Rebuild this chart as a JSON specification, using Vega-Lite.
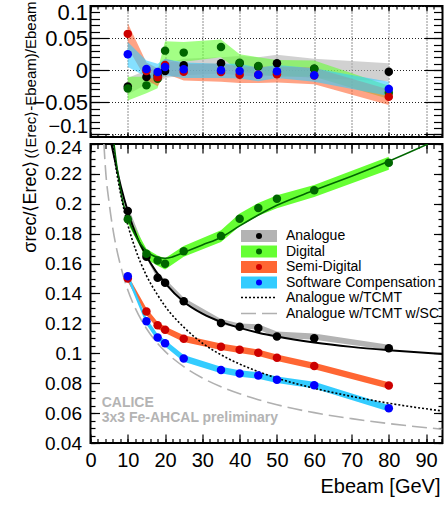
{
  "$schema": "https://vega.github.io/schema/vega-lite/v6.json",
  "autosize": {"type": "none"},
  "padding": {"left": 90.5, "top": 6, "right": 353.5, "bottom": 500},
  "background": "white",
  "config": {
    "font": "Liberation Sans",
    "view": {"stroke": "black", "strokeWidth": 2},
    "axis": {"domain": false, "grid": false, "tickColor": "black", "tickWidth": 1.2, "labelColor": "black", "labelFont": "Liberation Sans", "titleFont": "Liberation Sans", "titleColor": "black", "titleFontWeight": "normal", "labelFlush": false, "labelOverlap": false, "labelBound": false},
    "legend": {"labelFont": "Liberation Sans", "labelColor": "black", "padding": 0}
  },
  "datasets": {
    "topBands": [
      {"E": 10, "series": "Analogue", "lo": -0.038, "hi": -0.012},
      {"E": 15, "series": "Analogue", "lo": -0.022, "hi": 0.0},
      {"E": 18, "series": "Analogue", "lo": -0.02, "hi": 0.004},
      {"E": 20, "series": "Analogue", "lo": -0.012, "hi": 0.01},
      {"E": 25, "series": "Analogue", "lo": -0.008, "hi": 0.018},
      {"E": 35, "series": "Analogue", "lo": -0.005, "hi": 0.02},
      {"E": 40, "series": "Analogue", "lo": -0.008, "hi": 0.022},
      {"E": 45, "series": "Analogue", "lo": -0.01, "hi": 0.02},
      {"E": 50, "series": "Analogue", "lo": -0.008, "hi": 0.024},
      {"E": 60, "series": "Analogue", "lo": -0.012, "hi": 0.018},
      {"E": 80, "series": "Analogue", "lo": -0.017, "hi": 0.011},
      {"E": 10, "series": "Digital", "lo": -0.047, "hi": -0.01},
      {"E": 15, "series": "Digital", "lo": -0.036, "hi": -0.01},
      {"E": 18, "series": "Digital", "lo": -0.028, "hi": 0.0},
      {"E": 20, "series": "Digital", "lo": 0.015, "hi": 0.045},
      {"E": 25, "series": "Digital", "lo": 0.013, "hi": 0.044},
      {"E": 35, "series": "Digital", "lo": 0.02, "hi": 0.048},
      {"E": 40, "series": "Digital", "lo": -0.002, "hi": 0.025},
      {"E": 45, "series": "Digital", "lo": -0.006, "hi": 0.02},
      {"E": 50, "series": "Digital", "lo": -0.01, "hi": 0.016},
      {"E": 60, "series": "Digital", "lo": -0.01, "hi": 0.015},
      {"E": 80, "series": "Digital", "lo": -0.045, "hi": -0.024},
      {"E": 10, "series": "Semi-Digital", "lo": 0.035, "hi": 0.073},
      {"E": 15, "series": "Semi-Digital", "lo": -0.015, "hi": 0.012},
      {"E": 18, "series": "Semi-Digital", "lo": -0.025, "hi": 0.003},
      {"E": 20, "series": "Semi-Digital", "lo": -0.005, "hi": 0.018},
      {"E": 25, "series": "Semi-Digital", "lo": -0.016, "hi": 0.01},
      {"E": 35, "series": "Semi-Digital", "lo": -0.018, "hi": 0.01},
      {"E": 40, "series": "Semi-Digital", "lo": -0.02, "hi": 0.006},
      {"E": 45, "series": "Semi-Digital", "lo": -0.02, "hi": 0.005},
      {"E": 50, "series": "Semi-Digital", "lo": -0.019, "hi": 0.006},
      {"E": 60, "series": "Semi-Digital", "lo": -0.022, "hi": 0.004},
      {"E": 80, "series": "Semi-Digital", "lo": -0.054, "hi": -0.03},
      {"E": 10, "series": "Software Compensation", "lo": 0.005, "hi": 0.044},
      {"E": 15, "series": "Software Compensation", "lo": -0.01, "hi": 0.015},
      {"E": 18, "series": "Software Compensation", "lo": -0.015, "hi": 0.01},
      {"E": 20, "series": "Software Compensation", "lo": -0.008, "hi": 0.018},
      {"E": 25, "series": "Software Compensation", "lo": -0.012, "hi": 0.012},
      {"E": 35, "series": "Software Compensation", "lo": -0.012, "hi": 0.01},
      {"E": 40, "series": "Software Compensation", "lo": -0.013, "hi": 0.01},
      {"E": 45, "series": "Software Compensation", "lo": -0.017, "hi": 0.004},
      {"E": 50, "series": "Software Compensation", "lo": -0.012, "hi": 0.008},
      {"E": 60, "series": "Software Compensation", "lo": -0.018, "hi": 0.003},
      {"E": 80, "series": "Software Compensation", "lo": -0.04, "hi": -0.018}
    ],
    "topPts": [
      {"E": 10, "series": "Analogue", "v": -0.0252},
      {"E": 15, "series": "Analogue", "v": -0.0106},
      {"E": 18, "series": "Analogue", "v": -0.008},
      {"E": 20, "series": "Analogue", "v": -0.0013},
      {"E": 25, "series": "Analogue", "v": 0.0077},
      {"E": 35, "series": "Analogue", "v": 0.0108},
      {"E": 40, "series": "Analogue", "v": 0.011},
      {"E": 45, "series": "Analogue", "v": 0.0058},
      {"E": 50, "series": "Analogue", "v": 0.0108},
      {"E": 60, "series": "Analogue", "v": 0.0022},
      {"E": 80, "series": "Analogue", "v": -0.0023},
      {"E": 10, "series": "Digital", "v": -0.0283},
      {"E": 15, "series": "Digital", "v": -0.0236},
      {"E": 18, "series": "Digital", "v": -0.0133},
      {"E": 20, "series": "Digital", "v": 0.0305},
      {"E": 25, "series": "Digital", "v": 0.0274},
      {"E": 35, "series": "Digital", "v": 0.0363},
      {"E": 40, "series": "Digital", "v": 0.0117},
      {"E": 45, "series": "Digital", "v": 0.0066},
      {"E": 50, "series": "Digital", "v": -0.004},
      {"E": 60, "series": "Digital", "v": 0.0024},
      {"E": 80, "series": "Digital", "v": -0.035},
      {"E": 10, "series": "Semi-Digital", "v": 0.0566},
      {"E": 15, "series": "Semi-Digital", "v": -0.0013},
      {"E": 18, "series": "Semi-Digital", "v": -0.0111},
      {"E": 20, "series": "Semi-Digital", "v": 0.0081},
      {"E": 25, "series": "Semi-Digital", "v": -0.0023},
      {"E": 35, "series": "Semi-Digital", "v": -0.0028},
      {"E": 40, "series": "Semi-Digital", "v": -0.007},
      {"E": 45, "series": "Semi-Digital", "v": -0.0072},
      {"E": 50, "series": "Semi-Digital", "v": -0.0064},
      {"E": 60, "series": "Semi-Digital", "v": -0.0082},
      {"E": 80, "series": "Semi-Digital", "v": -0.0414},
      {"E": 10, "series": "Software Compensation", "v": 0.0248},
      {"E": 15, "series": "Software Compensation", "v": 0.0019},
      {"E": 18, "series": "Software Compensation", "v": -0.0028},
      {"E": 20, "series": "Software Compensation", "v": 0.005},
      {"E": 25, "series": "Software Compensation", "v": 0.0014},
      {"E": 35, "series": "Software Compensation", "v": -0.0002},
      {"E": 40, "series": "Software Compensation", "v": -0.0013},
      {"E": 45, "series": "Software Compensation", "v": -0.007},
      {"E": 50, "series": "Software Compensation", "v": -0.0017},
      {"E": 60, "series": "Software Compensation", "v": -0.008},
      {"E": 80, "series": "Software Compensation", "v": -0.0294}
    ],
    "botBands": [
      {"E": 10, "series": "Analogue", "lo": 0.1935, "hi": 0.1985},
      {"E": 15, "series": "Analogue", "lo": 0.1635, "hi": 0.1672},
      {"E": 18, "series": "Analogue", "lo": 0.1495, "hi": 0.153},
      {"E": 20, "series": "Analogue", "lo": 0.146, "hi": 0.1498},
      {"E": 25, "series": "Analogue", "lo": 0.1335, "hi": 0.1372},
      {"E": 35, "series": "Analogue", "lo": 0.1195, "hi": 0.123},
      {"E": 40, "series": "Analogue", "lo": 0.1168, "hi": 0.12},
      {"E": 45, "series": "Analogue", "lo": 0.116, "hi": 0.1195},
      {"E": 50, "series": "Analogue", "lo": 0.1105, "hi": 0.1145},
      {"E": 60, "series": "Analogue", "lo": 0.109, "hi": 0.1132},
      {"E": 80, "series": "Analogue", "lo": 0.1022, "hi": 0.1058},
      {"E": 10, "series": "Digital", "lo": 0.187, "hi": 0.1925},
      {"E": 15, "series": "Digital", "lo": 0.163, "hi": 0.17},
      {"E": 18, "series": "Digital", "lo": 0.1585, "hi": 0.1655},
      {"E": 20, "series": "Digital", "lo": 0.156, "hi": 0.1635},
      {"E": 25, "series": "Digital", "lo": 0.1645, "hi": 0.1718},
      {"E": 35, "series": "Digital", "lo": 0.1745, "hi": 0.1823},
      {"E": 40, "series": "Digital", "lo": 0.185, "hi": 0.1935},
      {"E": 45, "series": "Digital", "lo": 0.192, "hi": 0.2005},
      {"E": 50, "series": "Digital", "lo": 0.197, "hi": 0.2058},
      {"E": 60, "series": "Digital", "lo": 0.2046, "hi": 0.2125},
      {"E": 80, "series": "Digital", "lo": 0.2228, "hi": 0.2315},
      {"E": 10, "series": "Semi-Digital", "lo": 0.1479, "hi": 0.1523},
      {"E": 15, "series": "Semi-Digital", "lo": 0.1257, "hi": 0.1301},
      {"E": 18, "series": "Semi-Digital", "lo": 0.1165, "hi": 0.1209},
      {"E": 20, "series": "Semi-Digital", "lo": 0.1136, "hi": 0.118},
      {"E": 25, "series": "Semi-Digital", "lo": 0.1076, "hi": 0.112},
      {"E": 35, "series": "Semi-Digital", "lo": 0.1022, "hi": 0.1066},
      {"E": 40, "series": "Semi-Digital", "lo": 0.1002, "hi": 0.1046},
      {"E": 45, "series": "Semi-Digital", "lo": 0.0982, "hi": 0.1026},
      {"E": 50, "series": "Semi-Digital", "lo": 0.0948, "hi": 0.0992},
      {"E": 60, "series": "Semi-Digital", "lo": 0.0893, "hi": 0.0937},
      {"E": 80, "series": "Semi-Digital", "lo": 0.0763, "hi": 0.0807},
      {"E": 10, "series": "Software Compensation", "lo": 0.1494, "hi": 0.1538},
      {"E": 15, "series": "Software Compensation", "lo": 0.1192, "hi": 0.1236},
      {"E": 18, "series": "Software Compensation", "lo": 0.1083, "hi": 0.1127},
      {"E": 20, "series": "Software Compensation", "lo": 0.1045, "hi": 0.1089},
      {"E": 25, "series": "Software Compensation", "lo": 0.0944, "hi": 0.0988},
      {"E": 35, "series": "Software Compensation", "lo": 0.0866, "hi": 0.091},
      {"E": 40, "series": "Software Compensation", "lo": 0.0843, "hi": 0.0887},
      {"E": 45, "series": "Software Compensation", "lo": 0.083, "hi": 0.0874},
      {"E": 50, "series": "Software Compensation", "lo": 0.0801, "hi": 0.0845},
      {"E": 60, "series": "Software Compensation", "lo": 0.0765, "hi": 0.0809},
      {"E": 80, "series": "Software Compensation", "lo": 0.0611, "hi": 0.0655}
    ],
    "botPts": [
      {"E": 10, "series": "Analogue", "v": 0.1952},
      {"E": 15, "series": "Analogue", "v": 0.1646},
      {"E": 18, "series": "Analogue", "v": 0.1505},
      {"E": 20, "series": "Analogue", "v": 0.1472},
      {"E": 25, "series": "Analogue", "v": 0.1348},
      {"E": 35, "series": "Analogue", "v": 0.1203},
      {"E": 40, "series": "Analogue", "v": 0.1178},
      {"E": 45, "series": "Analogue", "v": 0.117},
      {"E": 50, "series": "Analogue", "v": 0.1113},
      {"E": 60, "series": "Analogue", "v": 0.11},
      {"E": 80, "series": "Analogue", "v": 0.1033},
      {"E": 10, "series": "Digital", "v": 0.1897},
      {"E": 15, "series": "Digital", "v": 0.1666},
      {"E": 18, "series": "Digital", "v": 0.1621},
      {"E": 20, "series": "Digital", "v": 0.1599},
      {"E": 25, "series": "Digital", "v": 0.1682},
      {"E": 35, "series": "Digital", "v": 0.1785},
      {"E": 40, "series": "Digital", "v": 0.19},
      {"E": 45, "series": "Digital", "v": 0.1972},
      {"E": 50, "series": "Digital", "v": 0.2033},
      {"E": 60, "series": "Digital", "v": 0.209},
      {"E": 80, "series": "Digital", "v": 0.2275},
      {"E": 10, "series": "Semi-Digital", "v": 0.1501},
      {"E": 15, "series": "Semi-Digital", "v": 0.1279},
      {"E": 18, "series": "Semi-Digital", "v": 0.1187},
      {"E": 20, "series": "Semi-Digital", "v": 0.1158},
      {"E": 25, "series": "Semi-Digital", "v": 0.1098},
      {"E": 35, "series": "Semi-Digital", "v": 0.1044},
      {"E": 40, "series": "Semi-Digital", "v": 0.1024},
      {"E": 45, "series": "Semi-Digital", "v": 0.1004},
      {"E": 50, "series": "Semi-Digital", "v": 0.097},
      {"E": 60, "series": "Semi-Digital", "v": 0.0915},
      {"E": 80, "series": "Semi-Digital", "v": 0.0785},
      {"E": 10, "series": "Software Compensation", "v": 0.1516},
      {"E": 15, "series": "Software Compensation", "v": 0.1214},
      {"E": 18, "series": "Software Compensation", "v": 0.1105},
      {"E": 20, "series": "Software Compensation", "v": 0.1067},
      {"E": 25, "series": "Software Compensation", "v": 0.0966},
      {"E": 35, "series": "Software Compensation", "v": 0.0888},
      {"E": 40, "series": "Software Compensation", "v": 0.0865},
      {"E": 45, "series": "Software Compensation", "v": 0.0852},
      {"E": 50, "series": "Software Compensation", "v": 0.0823},
      {"E": 60, "series": "Software Compensation", "v": 0.0787},
      {"E": 80, "series": "Software Compensation", "v": 0.0633}
    ],
    "fits": [
      {"E": 5.6, "curve": "Analogue", "v": 0.24},
      {"E": 7, "curve": "Analogue", "v": 0.224},
      {"E": 8.3, "curve": "Analogue", "v": 0.21},
      {"E": 10, "curve": "Analogue", "v": 0.195},
      {"E": 12.5, "curve": "Analogue", "v": 0.1775},
      {"E": 15, "curve": "Analogue", "v": 0.165},
      {"E": 17.5, "curve": "Analogue", "v": 0.155},
      {"E": 20, "curve": "Analogue", "v": 0.147},
      {"E": 25, "curve": "Analogue", "v": 0.1345},
      {"E": 30, "curve": "Analogue", "v": 0.1265},
      {"E": 35, "curve": "Analogue", "v": 0.121},
      {"E": 40, "curve": "Analogue", "v": 0.117},
      {"E": 45, "curve": "Analogue", "v": 0.1138},
      {"E": 50, "curve": "Analogue", "v": 0.1112},
      {"E": 60, "curve": "Analogue", "v": 0.1072},
      {"E": 70, "curve": "Analogue", "v": 0.1043},
      {"E": 80, "curve": "Analogue", "v": 0.1021},
      {"E": 94.4, "curve": "Analogue", "v": 0.0995},
      {"E": 6.3, "curve": "Digital", "v": 0.24},
      {"E": 7, "curve": "Digital", "v": 0.226},
      {"E": 8, "curve": "Digital", "v": 0.21},
      {"E": 9, "curve": "Digital", "v": 0.198},
      {"E": 10, "curve": "Digital", "v": 0.1905},
      {"E": 12, "curve": "Digital", "v": 0.179},
      {"E": 15, "curve": "Digital", "v": 0.1685},
      {"E": 18, "curve": "Digital", "v": 0.1642},
      {"E": 20, "curve": "Digital", "v": 0.1636},
      {"E": 22, "curve": "Digital", "v": 0.1645},
      {"E": 25, "curve": "Digital", "v": 0.1675},
      {"E": 30, "curve": "Digital", "v": 0.1725},
      {"E": 35, "curve": "Digital", "v": 0.1775},
      {"E": 40, "curve": "Digital", "v": 0.1852},
      {"E": 45, "curve": "Digital", "v": 0.1925},
      {"E": 50, "curve": "Digital", "v": 0.199},
      {"E": 60, "curve": "Digital", "v": 0.209},
      {"E": 70, "curve": "Digital", "v": 0.2185},
      {"E": 80, "curve": "Digital", "v": 0.2285},
      {"E": 90.5, "curve": "Digital", "v": 0.24}
    ],
    "tcmt": [
      {"E": 5.9, "curve": "Analogue w/TCMT", "v": 0.24},
      {"E": 7, "curve": "Analogue w/TCMT", "v": 0.2215},
      {"E": 8, "curve": "Analogue w/TCMT", "v": 0.2075},
      {"E": 10, "curve": "Analogue w/TCMT", "v": 0.186},
      {"E": 12, "curve": "Analogue w/TCMT", "v": 0.17},
      {"E": 15, "curve": "Analogue w/TCMT", "v": 0.152},
      {"E": 18, "curve": "Analogue w/TCMT", "v": 0.139},
      {"E": 20, "curve": "Analogue w/TCMT", "v": 0.1315},
      {"E": 25, "curve": "Analogue w/TCMT", "v": 0.1175},
      {"E": 30, "curve": "Analogue w/TCMT", "v": 0.1068},
      {"E": 35, "curve": "Analogue w/TCMT", "v": 0.099},
      {"E": 40, "curve": "Analogue w/TCMT", "v": 0.0928},
      {"E": 45, "curve": "Analogue w/TCMT", "v": 0.0877},
      {"E": 50, "curve": "Analogue w/TCMT", "v": 0.0834},
      {"E": 60, "curve": "Analogue w/TCMT", "v": 0.0766},
      {"E": 70, "curve": "Analogue w/TCMT", "v": 0.0712},
      {"E": 80, "curve": "Analogue w/TCMT", "v": 0.0666},
      {"E": 94.4, "curve": "Analogue w/TCMT", "v": 0.0614},
      {"E": 3.6, "curve": "Analogue w/TCMT w/SC", "v": 0.24},
      {"E": 4, "curve": "Analogue w/TCMT w/SC", "v": 0.224},
      {"E": 5, "curve": "Analogue w/TCMT w/SC", "v": 0.2005},
      {"E": 6, "curve": "Analogue w/TCMT w/SC", "v": 0.1832},
      {"E": 7, "curve": "Analogue w/TCMT w/SC", "v": 0.1698},
      {"E": 8, "curve": "Analogue w/TCMT w/SC", "v": 0.1592},
      {"E": 10, "curve": "Analogue w/TCMT w/SC", "v": 0.1423},
      {"E": 12, "curve": "Analogue w/TCMT w/SC", "v": 0.1302},
      {"E": 15, "curve": "Analogue w/TCMT w/SC", "v": 0.1166},
      {"E": 18, "curve": "Analogue w/TCMT w/SC", "v": 0.1066},
      {"E": 20, "curve": "Analogue w/TCMT w/SC", "v": 0.1013},
      {"E": 25, "curve": "Analogue w/TCMT w/SC", "v": 0.0911},
      {"E": 30, "curve": "Analogue w/TCMT w/SC", "v": 0.0835},
      {"E": 35, "curve": "Analogue w/TCMT w/SC", "v": 0.0776},
      {"E": 40, "curve": "Analogue w/TCMT w/SC", "v": 0.0729},
      {"E": 45, "curve": "Analogue w/TCMT w/SC", "v": 0.069},
      {"E": 50, "curve": "Analogue w/TCMT w/SC", "v": 0.0656},
      {"E": 60, "curve": "Analogue w/TCMT w/SC", "v": 0.0603},
      {"E": 70, "curve": "Analogue w/TCMT w/SC", "v": 0.0563},
      {"E": 80, "curve": "Analogue w/TCMT w/SC", "v": 0.053},
      {"E": 94.4, "curve": "Analogue w/TCMT w/SC", "v": 0.0492}
    ]
  },
  "vconcat": [
    {
      "width": 352,
      "height": 131,
      "layer": [
        {
          "data": {"name": "topBands"},
          "transform": [{"filter": {"field": "series", "oneOf": ["Analogue", "Digital"]}}],
          "mark": {"type": "area", "opacity": 0.6},
          "encoding": {
            "x": {"field": "E", "type": "quantitative", "scale": {"domain": [0, 94.4], "nice": false, "zero": false},
              "axis": {"orient": "bottom", "values": [0, 10, 20, 30, 40, 50, 60, 70, 80, 90], "tickSize": -5, "labels": false, "grid": true, "gridDash": [1, 2], "gridColor": "#222222", "gridWidth": 1, "title": null}},
            "y": {"field": "lo", "type": "quantitative", "scale": {"domain": [-0.104, 0.1], "nice": false, "zero": false},
              "axis": {"orient": "left", "values": [-0.1, -0.05, 0, 0.05, 0.1], "tickSize": -18, "labelPadding": 21, "labelFontSize": {"condition": {"test": "datum.value < -0.09", "value": 20}, "value": 22}, "format": "~g",
                "labelBaseline": {"condition": [{"test": "datum.value < -0.09", "value": "alphabetic"}, {"test": "datum.value > 0.09", "value": "top"}], "value": "middle"},
                "labelOffset": {"condition": [{"test": "datum.value < -0.09", "value": -1.5}, {"test": "datum.value > 0.09", "value": -4}], "value": 0},
                "grid": true, "gridDash": [1, 2], "gridColor": "#222222", "gridWidth": 1,
                "title": "(⟨Erec⟩-Ebeam)/Ebeam", "titleFontSize": 15, "titleAngle": 270, "titleAlign": "right", "titleBaseline": "alphabetic", "titleX": -55.5, "titleY": -5}},
            "y2": {"field": "hi"},
            "color": {"field": "series", "type": "nominal", "scale": {"domain": ["Analogue", "Digital", "Semi-Digital", "Software Compensation"], "range": ["#b3b3b3", "#66ff33", "#ff6633", "#33ccff"]}, "legend": null}
          }
        },
        {
          "data": {"name": "topBands"},
          "transform": [{"filter": {"field": "series", "oneOf": ["Semi-Digital", "Software Compensation"]}}],
          "mark": {"type": "area", "opacity": 0.6},
          "encoding": {
            "x": {"field": "E", "type": "quantitative",
              "axis": {"orient": "bottom", "values": [0, 2, 4, 6, 8, 10, 12, 14, 16, 18, 20, 22, 24, 26, 28, 30, 32, 34, 36, 38, 40, 42, 44, 46, 48, 50, 52, 54, 56, 58, 60, 62, 64, 66, 68, 70, 72, 74, 76, 78, 80, 82, 84, 86, 88, 90, 92, 94], "tickSize": -3, "labels": false, "title": null}},
            "y": {"field": "lo", "type": "quantitative",
              "axis": {"orient": "left", "values": [-0.1, -0.09, -0.08, -0.07, -0.06, -0.05, -0.04, -0.03, -0.02, -0.01, 0, 0.01, 0.02, 0.03, 0.04, 0.05, 0.06, 0.07, 0.08, 0.09, 0.1], "tickSize": -9, "labels": false, "title": null}},
            "y2": {"field": "hi"},
            "color": {"field": "series", "type": "nominal", "legend": null}
          }
        },
        {
          "data": {"name": "topPts"},
          "transform": [{"filter": {"field": "series", "oneOf": ["Analogue", "Digital"]}}],
          "mark": {"type": "circle", "size": 72, "opacity": 1},
          "encoding": {
            "x": {"field": "E", "type": "quantitative",
              "axis": {"orient": "top", "values": [0, 10, 20, 30, 40, 50, 60, 70, 80, 90], "tickSize": -5, "labels": false, "title": null}},
            "y": {"field": "v", "type": "quantitative",
              "axis": {"orient": "right", "values": [-0.1, -0.05, 0, 0.05, 0.1], "tickSize": -18, "labels": false, "title": null}},
            "fill": {"field": "series", "type": "nominal", "scale": {"range": ["black", "#006600", "#cc0000", "#0000ff"]}, "legend": null}
          }
        },
        {
          "data": {"name": "topPts"},
          "transform": [{"filter": {"field": "series", "oneOf": ["Semi-Digital", "Software Compensation"]}}],
          "mark": {"type": "circle", "size": 72, "opacity": 1},
          "encoding": {
            "x": {"field": "E", "type": "quantitative",
              "axis": {"orient": "top", "values": [0, 2, 4, 6, 8, 10, 12, 14, 16, 18, 20, 22, 24, 26, 28, 30, 32, 34, 36, 38, 40, 42, 44, 46, 48, 50, 52, 54, 56, 58, 60, 62, 64, 66, 68, 70, 72, 74, 76, 78, 80, 82, 84, 86, 88, 90, 92, 94], "tickSize": -3, "labels": false, "title": null}},
            "y": {"field": "v", "type": "quantitative",
              "axis": {"orient": "right", "values": [-0.1, -0.09, -0.08, -0.07, -0.06, -0.05, -0.04, -0.03, -0.02, -0.01, 0, 0.01, 0.02, 0.03, 0.04, 0.05, 0.06, 0.07, 0.08, 0.09, 0.1], "tickSize": -9, "labels": false, "title": null}},
            "fill": {"field": "series", "type": "nominal", "legend": null}
          }
        }
      ],
      "resolve": {"axis": {"x": "independent", "y": "independent"}}
    },
    {
      "width": 352,
      "height": 299,
      "layer": [
        {
          "data": {"name": "botBands"},
          "mark": {"type": "area", "opacity": 1},
          "encoding": {
            "x": {"field": "E", "type": "quantitative", "scale": {"domain": [0, 94.4], "nice": false, "zero": false},
              "axis": {"orient": "bottom", "values": [0, 10, 20, 30, 40, 50, 60, 70, 80, 90], "tickSize": -9, "labelPadding": 16, "labelFontSize": 20,
                "title": "Ebeam [GeV]", "titleFontSize": 20, "titleAlign": "right", "titleBaseline": "alphabetic", "titleX": 349.5, "titleY": 49}},
            "y": {"field": "lo", "type": "quantitative", "scale": {"domain": [0.04, 0.24], "nice": false, "zero": false},
              "axis": {"orient": "left", "values": [0.04, 0.06, 0.08, 0.1, 0.12, 0.14, 0.16, 0.18, 0.2, 0.22, 0.24], "tickSize": -9, "labelPadding": 18, "labelFontSize": 19, "format": "~g",
                "labelOffset": {"condition": {"test": "datum.value > 0.235", "value": 3}, "value": 0},
                "title": "σrec/⟨Erec⟩", "titleFontSize": 18, "titleAngle": 270, "titleAlign": "right", "titleBaseline": "alphabetic", "titleX": -55.5, "titleY": 16}},
            "y2": {"field": "hi"},
            "color": {"field": "series", "type": "nominal", "scale": {"domain": ["Analogue", "Digital", "Semi-Digital", "Software Compensation"], "range": ["#b3b3b3", "#66ff33", "#ff6633", "#33ccff"]},
              "legend": {"orient": "none", "legendX": 161.5, "legendY": 85, "title": null, "symbolType": "M-6,-2H6V2H-6Z", "symbolSize": 36, "symbolStrokeWidth": 0, "symbolOpacity": 1, "labelFontSize": 14, "labelOffset": 20, "labelExpr": "' '", "rowPadding": 1.5}}
          }
        },
        {
          "data": {"name": "fits"},
          "transform": [{"filter": {"field": "curve", "equal": "Analogue"}}],
          "mark": {"type": "line", "interpolate": "monotone", "color": "black", "strokeWidth": 2, "clip": true},
          "encoding": {
            "x": {"field": "E", "type": "quantitative",
              "axis": {"orient": "bottom", "values": [0, 2, 4, 6, 8, 10, 12, 14, 16, 18, 20, 22, 24, 26, 28, 30, 32, 34, 36, 38, 40, 42, 44, 46, 48, 50, 52, 54, 56, 58, 60, 62, 64, 66, 68, 70, 72, 74, 76, 78, 80, 82, 84, 86, 88, 90, 92, 94], "tickSize": -4.5, "labels": false, "title": null}},
            "y": {"field": "v", "type": "quantitative",
              "axis": {"orient": "left", "values": [0.04, 0.045, 0.05, 0.055, 0.06, 0.065, 0.07, 0.075, 0.08, 0.085, 0.09, 0.095, 0.1, 0.105, 0.11, 0.115, 0.12, 0.125, 0.13, 0.135, 0.14, 0.145, 0.15, 0.155, 0.16, 0.165, 0.17, 0.175, 0.18, 0.185, 0.19, 0.195, 0.2, 0.205, 0.21, 0.215, 0.22, 0.225, 0.23, 0.235, 0.24], "tickSize": -4.5, "labels": false, "title": null}}
          }
        },
        {
          "data": {"name": "fits"},
          "transform": [{"filter": {"field": "curve", "equal": "Digital"}}],
          "mark": {"type": "line", "interpolate": "monotone", "color": "#006600", "strokeWidth": 1.6, "clip": true},
          "encoding": {
            "x": {"field": "E", "type": "quantitative",
              "axis": {"orient": "top", "values": [0, 10, 20, 30, 40, 50, 60, 70, 80, 90], "tickSize": -9, "labels": false, "title": null}},
            "y": {"field": "v", "type": "quantitative",
              "axis": {"orient": "right", "values": [0.04, 0.06, 0.08, 0.1, 0.12, 0.14, 0.16, 0.18, 0.2, 0.22, 0.24], "tickSize": -9, "labels": false, "title": null}}
          }
        },
        {
          "data": {"name": "tcmt"},
          "mark": {"type": "line", "interpolate": "monotone", "strokeWidth": 1.6, "clip": true},
          "encoding": {
            "x": {"field": "E", "type": "quantitative",
              "axis": {"orient": "top", "values": [0, 2, 4, 6, 8, 10, 12, 14, 16, 18, 20, 22, 24, 26, 28, 30, 32, 34, 36, 38, 40, 42, 44, 46, 48, 50, 52, 54, 56, 58, 60, 62, 64, 66, 68, 70, 72, 74, 76, 78, 80, 82, 84, 86, 88, 90, 92, 94], "tickSize": -4.5, "labels": false, "title": null}},
            "y": {"field": "v", "type": "quantitative",
              "axis": {"orient": "right", "values": [0.04, 0.045, 0.05, 0.055, 0.06, 0.065, 0.07, 0.075, 0.08, 0.085, 0.09, 0.095, 0.1, 0.105, 0.11, 0.115, 0.12, 0.125, 0.13, 0.135, 0.14, 0.145, 0.15, 0.155, 0.16, 0.165, 0.17, 0.175, 0.18, 0.185, 0.19, 0.195, 0.2, 0.205, 0.21, 0.215, 0.22, 0.225, 0.23, 0.235, 0.24], "tickSize": -4.5, "labels": false, "title": null}},
            "stroke": {"field": "curve", "type": "nominal", "scale": {"domain": ["Analogue w/TCMT", "Analogue w/TCMT w/SC"], "range": ["black", "#b0b0b0"]},
              "legend": {"orient": "none", "legendX": 161.5, "legendY": 146.5, "title": null, "symbolType": "M-6,0H6", "symbolSize": 36, "symbolStrokeWidth": 1.6, "labelFontSize": 14, "labelOffset": 20, "rowPadding": 2}},
            "strokeDash": {"field": "curve", "type": "nominal", "scale": {"domain": ["Analogue w/TCMT", "Analogue w/TCMT w/SC"], "range": [[2, 2], [15, 6]]},
              "legend": {"orient": "none", "legendX": 161.5, "legendY": 146.5, "title": null, "symbolType": "M-6,0H6", "symbolSize": 36, "symbolStrokeWidth": 1.6, "labelFontSize": 14, "labelOffset": 20, "rowPadding": 2}}
          }
        },
        {
          "data": {"name": "botPts"},
          "mark": {"type": "circle", "size": 72, "opacity": 1},
          "encoding": {
            "x": {"field": "E", "type": "quantitative", "axis": null},
            "y": {"field": "v", "type": "quantitative", "axis": null},
            "fill": {"field": "series", "type": "nominal", "scale": {"range": ["black", "#006600", "#cc0000", "#0000ff"]},
              "legend": {"orient": "none", "legendX": 161.5, "legendY": 85, "title": null, "symbolType": "circle", "symbolSize": 36, "symbolStrokeWidth": 0, "symbolOpacity": 1, "labelFontSize": 14, "labelOffset": 20, "rowPadding": 1.5, "zindex": 1}}
          }
        },
        {
          "data": {"values": [{}]},
          "mark": {"type": "text", "align": "left", "baseline": "alphabetic", "font": "Liberation Sans", "fontSize": 14, "fontWeight": "bold", "color": "#b4b4b4", "lineHeight": 15.5},
          "encoding": {
            "x": {"datum": 3, "type": "quantitative", "axis": null},
            "y": {"datum": 0.0643, "type": "quantitative", "axis": null},
            "text": {"value": ["CALICE", "3x3 Fe-AHCAL preliminary"]}
          }
        }
      ],
      "resolve": {"axis": {"x": "independent", "y": "independent"}}
    }
  ],
  "spacing": 7,
  "bounds": "flush",
  "resolve": {"scale": {"color": "independent", "fill": "independent", "stroke": "independent", "strokeDash": "independent"}}
}
